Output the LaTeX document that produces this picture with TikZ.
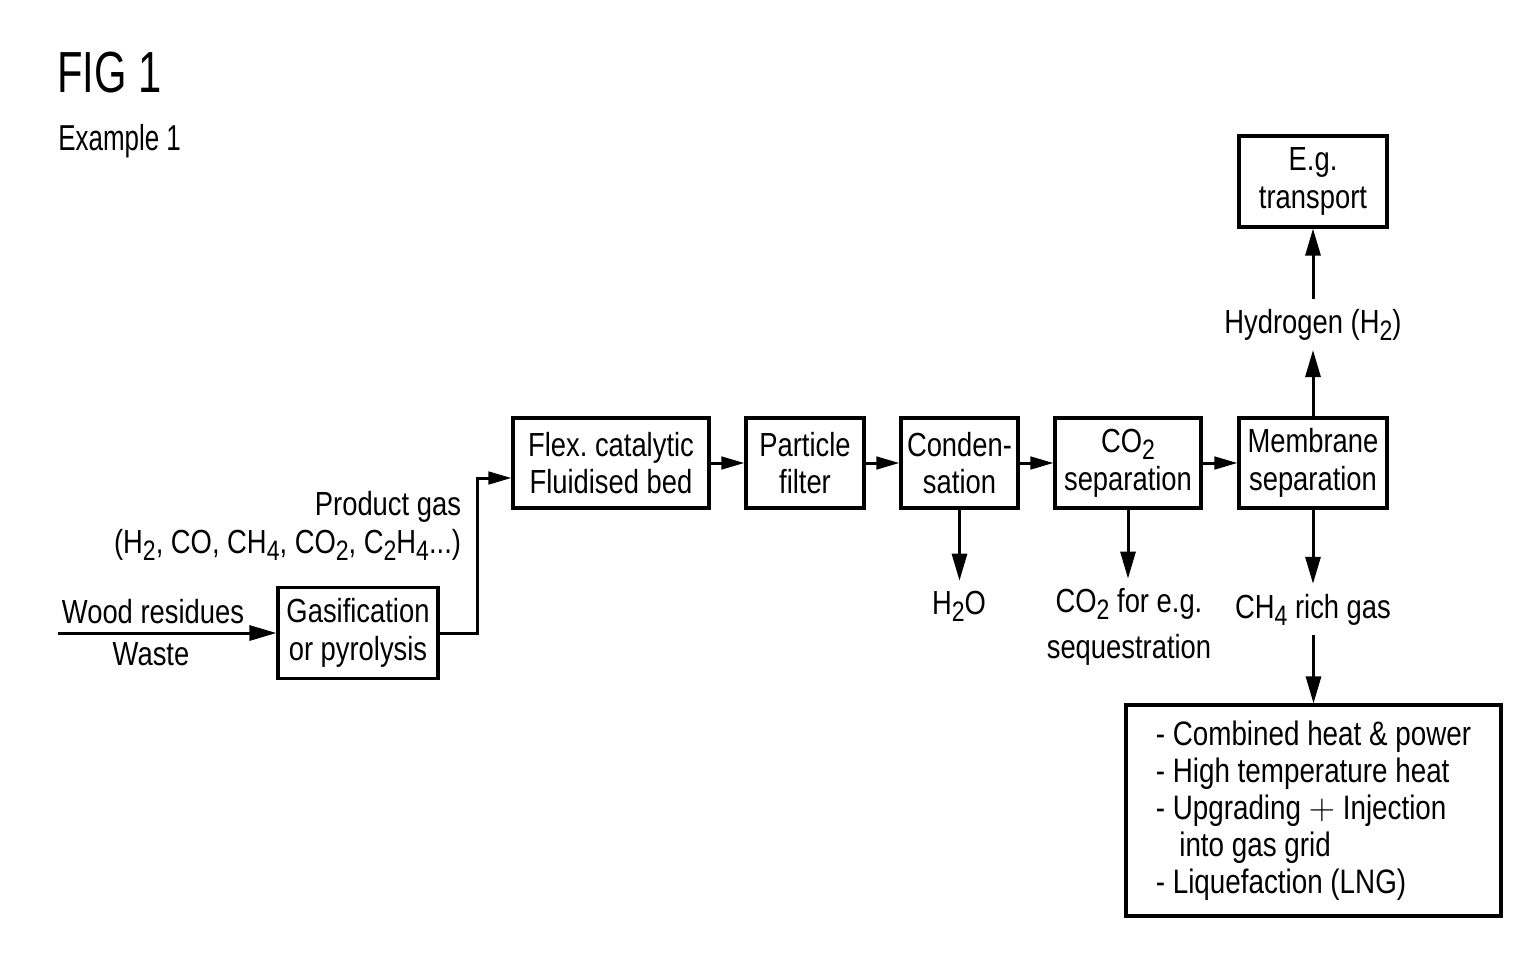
\documentclass[tikz,border=0pt]{standalone}
\usepackage{fontspec}
\setmainfont[FakeStretch=0.82]{Liberation Sans}
\newfontfamily\figfont[FakeStretch=0.72]{Liberation Sans}
\usetikzlibrary{arrows.meta}
\newcommand{\dsub}[1]{\raisebox{-4pt}{\fontsize{16}{16}\selectfont #1}}

\begin{document}
\begin{tikzpicture}[
  x=0.02cm, y=-0.02cm,
  box/.style={draw=black, line width=1.8pt, inner sep=0pt, align=center, font=\fontsize{19}{21.5}\selectfont},
  tag/.style={inner sep=0pt, outer sep=0.2cm, align=center, font=\fontsize{19}{21.5}\selectfont},
  arrow/.style={line width=1.7pt, -{Triangle[length=0.54cm, width=0.3cm]}},
  link/.style={line width=1.7pt, -{Triangle[length=0.46cm, width=0.25cm]}}
]
\useasboundingbox (0,0) rectangle (1536,965);

\node[anchor=base west, inner sep=0pt, font=\figfont\fontsize{33}{33}\selectfont] (fig) at (57,92) {FIG 1};
\node[anchor=base west, inner sep=0pt, font=\figfont\fontsize{20.5}{20.5}\selectfont] (example) at (58,150) {Example 1};

\node[box, minimum width=3.2cm, minimum height=1.82cm] (gasif) at (358,633) {Gasification\\or pyrolysis};
\node[box, minimum width=3.92cm, minimum height=1.8cm] (fluid) at (611,463) {Flex.\ catalytic\\Fluidised bed};
\node[box, minimum width=2.36cm, minimum height=1.8cm] (filter) at (805,463) {Particle\\filter};
\node[box, minimum width=2.34cm, minimum height=1.8cm] (conden) at (959.5,463) {Conden-\\sation};
\node[box, minimum width=2.92cm, minimum height=1.8cm] (cosep) at (1128,463) {CO\dsub{2}\\separation};
\node[box, minimum width=2.96cm, minimum height=1.8cm] (membr) at (1313,463) {Membrane\\separation};
\node[box, minimum width=2.96cm, minimum height=1.82cm] (transp) at (1313,181.5) {E.g.\\transport};
\node[box, minimum width=7.5cm, minimum height=4.22cm, align=left, font=\fontsize{19.3}{21}\selectfont] (uses) at (1313.5,810.5)
  {- Combined heat \& power\\- High temperature heat\\- Upgrading $+$ Injection\\\hspace*{0.47cm}into gas grid\\- Liquefaction (LNG)};

\coordinate (feed) at (58,633);
\node[tag, anchor=base] (wood) at (153,623) {Wood residues};
\node[tag, anchor=base] (waste) at (151,665) {Waste};
\node[tag, anchor=east, align=right, outer sep=0pt] (prodgas) at (461,526)
  {Product gas\\(H\dsub{2}, CO, CH\dsub{4}, CO\dsub{2}, C\dsub{2}H\dsub{4}...)};
\node[tag, anchor=base] (water) at (959,614) {H\dsub{2}O};
\node[tag] (cotwo) at (1129,627) {CO\dsub{2} for e.g.\\[0.16cm]sequestration};
\node[tag, anchor=base] (methane) at (1313,618) {CH\dsub{4} rich gas};
\node[tag, anchor=base] (hydro) at (1313,333) {Hydrogen (H\dsub{2})};

\draw[arrow] (feed) -- (gasif.west);
\draw[link] (gasif.east) -- ++(38,0) |- ([yshift=-0.3cm]fluid.west);
\draw[link] (fluid) -- (filter);
\draw[link] (filter) -- (conden);
\draw[link] (conden) -- (cosep);
\draw[link] (cosep) -- (membr);

\draw[arrow] (conden.south) -- (conden.south |- water.north);
\draw[arrow] (cosep.south) -- (cosep.south |- cotwo.north);
\draw[arrow] (membr.south) -- (membr.south |- methane.north);
\draw[arrow] (uses.north |- methane.south) -- (uses.north);
\draw[arrow] (membr.north) -- (membr.north |- hydro.south);
\draw[arrow] (transp.south |- hydro.north) -- (transp.south);

\end{tikzpicture}
\end{document}
